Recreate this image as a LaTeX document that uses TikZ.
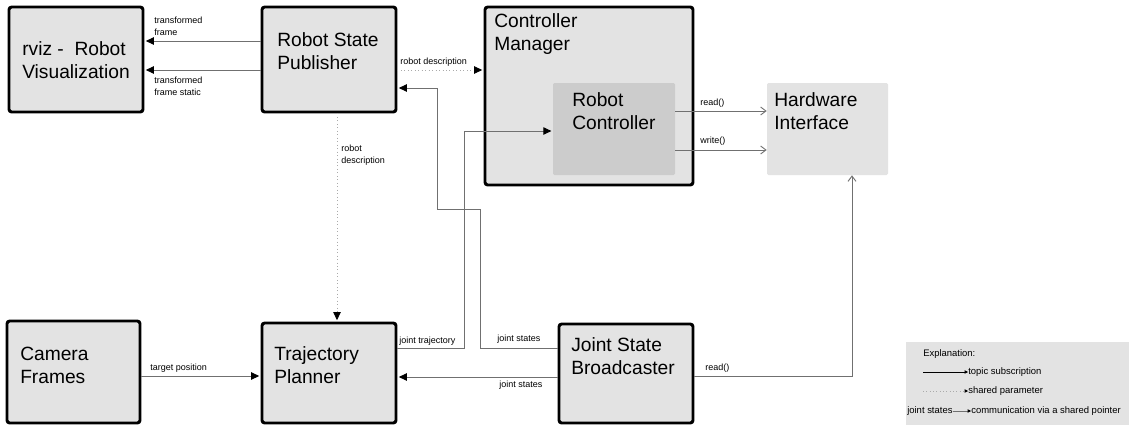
\documentclass[tikz,border=0pt]{standalone}
\usepackage{fontspec}
\setmainfont{Liberation Sans}
\usetikzlibrary{arrows.meta,fit}
\definecolor{boxfill}{HTML}{E3E3E3}
\definecolor{rcfill}{HTML}{CCCCCC}
\definecolor{linegray}{HTML}{707070}
\definecolor{dotgray}{HTML}{AAAAAA}
\begin{document}
\begin{tikzpicture}[x=0.75pt,y=-0.75pt,
 box/.style={draw=black,line width=2.2pt,rounded corners=2pt,fill=boxfill,inner sep=0pt},
 flat/.style={fill=#1,inner sep=0pt,rounded corners=1pt},
 big/.style={font=\fontsize{14.4}{17.3}\selectfont,align=left,anchor=west,inner sep=0pt},
 small/.style={font=\fontsize{6.75}{9}\selectfont,align=left,anchor=west,inner sep=0pt},
 leg/.style={font=\fontsize{7.1}{9}\selectfont,anchor=west,inner sep=0pt},
 topic/.style={draw=linegray,line width=0.7pt,shorten >=1pt,-{Triangle[length=6pt,width=5.5pt,color=black]}},
 param/.style={draw=dotgray,line width=0.6pt,dotted,shorten >=1pt,-{Triangle[length=6pt,width=5.5pt,color=black]}},
 hw/.style={draw=linegray,line width=0.7pt,-{Straight Barb[length=4pt,width=6pt]}},
 legtopic/.style={draw=black,line width=0.5pt,-{Triangle[length=2.5pt,width=2.5pt]}},
 legparam/.style={draw=dotgray,line width=0.5pt,dotted,-{Triangle[length=2.5pt,width=2.5pt,color=black]}},
 legptr/.style={draw=linegray,line width=0.5pt,-{Triangle[length=2.5pt,width=2.5pt,color=black]}},
]
\useasboundingbox (0,0) rectangle (1129,425);

% boxes
\node[box,fit={(9,7)(143,112)}] (rviz) {};
\node[box,fit={(262,7)(396,112)}] (rsp) {};
\node[box,fit={(485,7)(693,185)}] (cm) {};
\node[flat=rcfill,fit={(553,83)(675,175)}] (rc) {};
\node[flat=boxfill,fit={(767,83)(888,175)}] (hi) {};
\node[box,fit={(7,321)(140,423)}] (cam) {};
\node[box,fit={(262,323)(396,423)}] (tp) {};
\node[box,fit={(559,324)(693,423)}] (jsb) {};
\node[flat=boxfill,fit={(906,342)(1129,425)},rounded corners=0pt] (legend) {};

% box texts
\node[big] (trviz) at (22,60) {rviz -\ \ Robot\\Visualization};
\node[big] (trsp) at (277,51) {Robot State\\Publisher};
\node[big] (tcm) at (494,34) {Controller\\Manager};
\node[big] (trc) at (572,111) {Robot\\Controller};
\node[big] (thi) at (774,111) {Hardware\\Interface};
\node[big] (tcam) at (20,365) {Camera\\Frames};
\node[big] (ttp) at (274,365) {Trajectory\\Planner};
\node[big] (tjsb) at (571,356) {Joint State\\Broadcaster};

% connectors
\draw[topic] (rsp.west |- 0,41) -- (rviz.east |- 0,41);
\draw[topic] (rsp.west |- 0,70) -- (rviz.east |- 0,70);
\draw[param] (rsp.east |- 0,70) -- (cm.west |- 0,70);
\draw[param] (rsp.south -| 337,0) -- (tp.north -| 337,0);
\draw[topic] (jsb.west |- 0,348) -| (480,209) -| (437,88) -- (rsp.east |- 0,88);
\draw[topic] (tp.east |- 0,348) -| (464,131) -- (rc.west |- 0,131);
\draw[topic] (jsb.west |- 0,377) -- (tp.east |- 0,377);
\draw[topic] (cam.east |- 0,376) -- (tp.west |- 0,376);
\draw[hw] (rc.east |- 0,111) -- (hi.west |- 0,111);
\draw[hw] (rc.east |- 0,150) -- (hi.west |- 0,150);
\draw[hw] (jsb.east |- 0,376) -| (hi.south -| 852,0);

% connector labels
\node[small] (l1) at (154,26) {transformed\\frame};
\node[small] (l2) at (154,86) {transformed\\frame static};
\node[small] (l3) at (400,62) {robot description};
\node[small] (l4) at (341,155) {robot\\description};
\node[small] (l5) at (399,341) {joint trajectory};
\node[small] (l6) at (497,339) {joint states};
\node[small] (l7) at (499,385) {joint states};
\node[small] (l8) at (150,368) {target position};
\node[small] (l9) at (700,103) {read()};
\node[small] (l10) at (700,141) {write()};
\node[small] (l11) at (705,368) {read()};

% legend
\node[leg] (lex) at (923,354) {Explanation:};
\coordinate (la1) at (923,372);
\node[leg] (lt1) at (968,372) {topic subscription};
\draw[legtopic] (la1) -- (lt1.west);
\coordinate (la2) at (923,391);
\node[leg] (lt2) at (968,391) {shared parameter};
\draw[legparam] (la2) -- (lt2.west);
\node[leg] (lj) at (907,411) {joint states};
\node[leg] (lt3) at (971,411) {communication via a shared pointer};
\draw[legptr] (lj.east) -- (lt3.west);
\end{tikzpicture}
\end{document}
